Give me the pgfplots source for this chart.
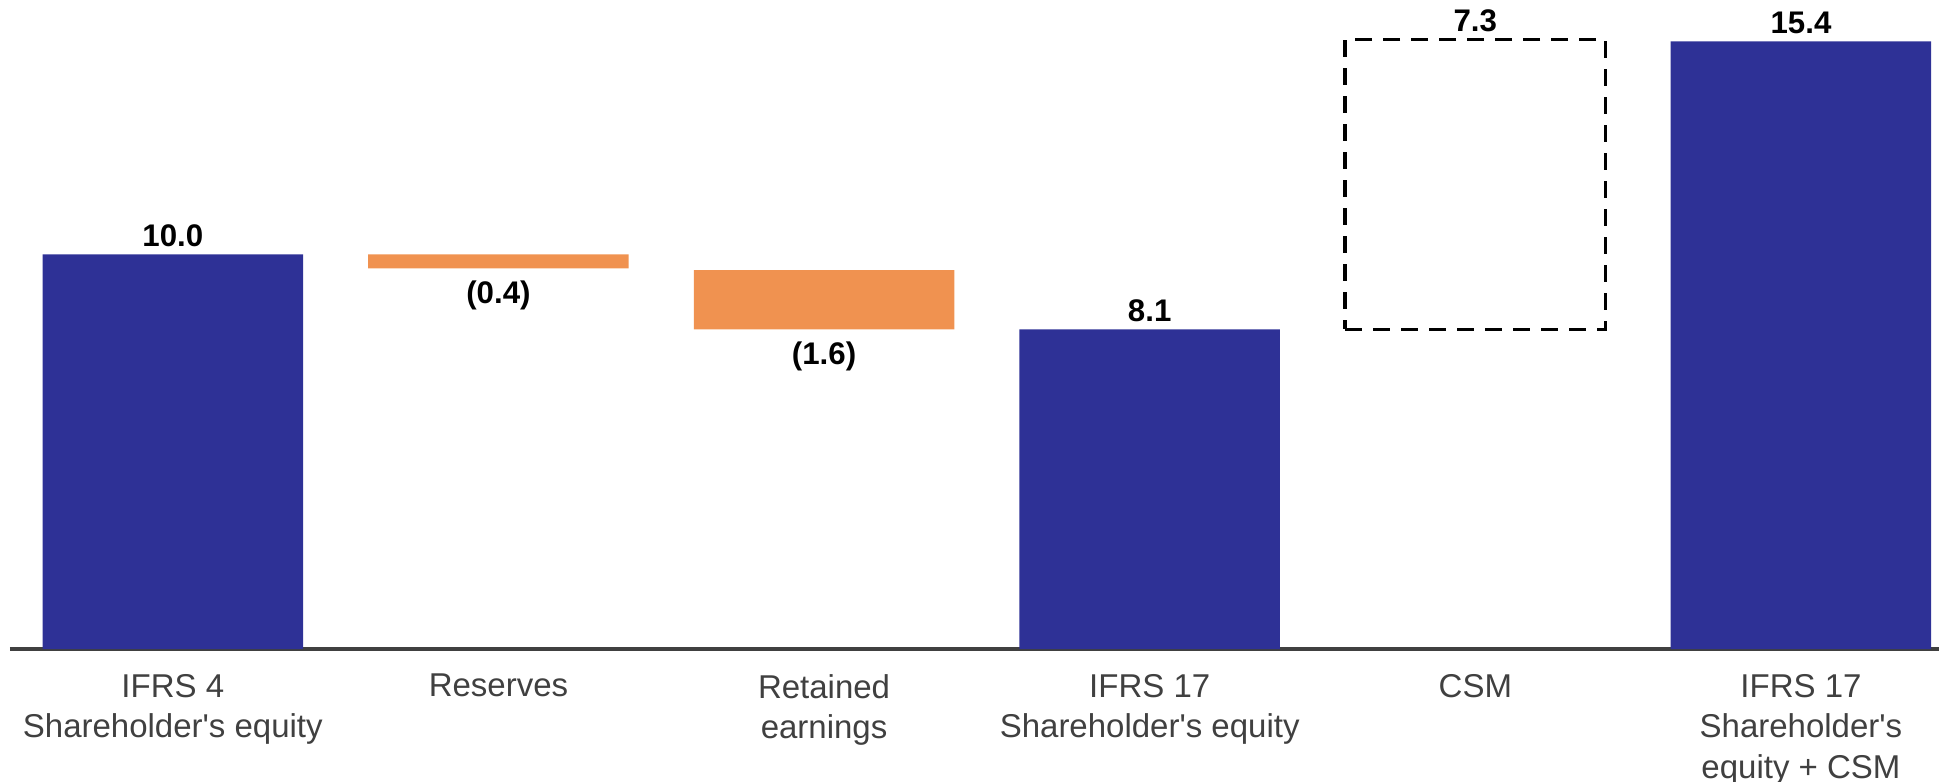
\documentclass[border=0pt]{standalone}
\usepackage{fontspec}
\setmainfont{Liberation Sans}
\newfontfamily\labfont{Liberation Sans}
\usepackage{pgfplots}
\pgfplotsset{compat=1.18}
\definecolor{blueC}{RGB}{46,49,150}
\definecolor{orangeC}{RGB}{240,146,80}
\definecolor{labelC}{RGB}{64,64,64}
\definecolor{axisC}{RGB}{64,64,64}
\begin{document}
\begin{tikzpicture}
\pgfplotsset{
  common/.style={
    scale only axis,
    width=771.6pt, height=259.6pt,
    xmin=-0.5, xmax=5.424,
    ymin=0, ymax=16.45,
  }
}
\begin{axis}[common,
  ybar stacked, bar width=0.8,
  axis y line=none,
  axis x line=bottom,
  x axis line style={-, line width=1.4pt, color=axisC},
  xtick={0,1,2,3,4,5},
  major tick length=0pt,
  xticklabels={{IFRS 4\\Shareholder's equity},{Reserves},{Retained\\earnings},{IFRS 17\\Shareholder's equity},{CSM},{IFRS 17\\Shareholder's\\equity + CSM}},
  xticklabel style={font=\labfont\fontsize{13.2}{16.2}\selectfont, text=labelC, align=center, anchor=north, inner sep=0pt, yshift=-9.9pt},
  clip=false,
]
% invisible base
\addplot[draw=none, fill=none] table {
x y
0 0
1 9.65
2 8.1
3 0
4 8.1
5 0
};
% totals
\addplot[draw=none, fill=blueC] table {
x y
0 10.0
1 0
2 0
3 8.1
4 0
5 15.4
};
% decreases
\addplot[draw=none, fill=orangeC] table {
x y
0 0
1 0.35
2 1.5
3 0
4 0
5 0
};
\end{axis}
\begin{axis}[common, hide axis, clip=false]
% CSM increase (dashed outline)
\addplot[draw=black, line width=1.4pt, dash pattern=on 6.8pt off 4.4pt, fill=none, mark=none] coordinates {
(3.6,8.1) (4.4,8.1) (4.4,15.45) (3.6,15.45)
} -- cycle;
% labels above
\addplot[only marks, mark=none, nodes near coords, point meta=explicit symbolic,
  nodes near coords style={anchor=base, inner sep=0pt, yshift=3.2pt, font=\fontsize{12.5}{14}\selectfont\bfseries, text=black}]
  table[meta=label] {
x y label
0 10.0 10.0
3 8.1 8.1
4 15.45 7.3
5 15.4 15.4
};
% labels below
\addplot[only marks, mark=none, nodes near coords, point meta=explicit symbolic,
  nodes near coords style={anchor=base, inner sep=0pt, yshift=-14pt, font=\fontsize{12.5}{14}\selectfont\bfseries, text=black}]
  table[meta=label] {
x y label
1 9.65 (0.4)
2 8.1 (1.6)
};
\end{axis}
\pgfresetboundingbox
\path[use as bounding box] (-4pt,-53.2pt) rectangle (771.6pt,259.6pt);
\end{tikzpicture}
\end{document}
